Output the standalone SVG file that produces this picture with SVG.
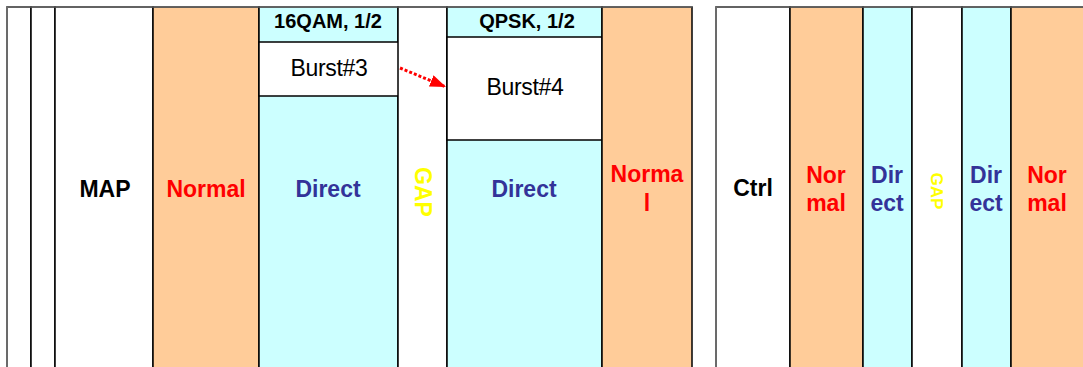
<svg xmlns="http://www.w3.org/2000/svg" width="1083" height="367" viewBox="0 0 1083 367">
<style>
.col{stroke:#000;stroke-width:1.5}
.w{fill:#fff}
.o{fill:#FFCC99}
.c{fill:#CCFFFF}
.frame{fill:none;stroke:#888;stroke-width:1.2}
text{font-family:"Liberation Sans",Arial,sans-serif;text-anchor:middle}
.b{font-weight:bold;font-size:23px}
.blk{fill:#000}
.red{fill:#FF0000}
.blu{fill:#333399}
.yel{fill:#FFFF00}
.hdr{font-weight:bold;font-size:20px;fill:#000}
.bst{font-size:23px;fill:#000;letter-spacing:-0.3px}
</style>
<defs>
<marker id="ah" markerWidth="16" markerHeight="12" refX="16" refY="6" orient="auto" markerUnits="userSpaceOnUse" viewBox="0 0 16 12">
<path d="M0,0 L16,6 L0,12 z" fill="#FF0000"/>
</marker>
</defs>
<rect width="1083" height="367" fill="#fff"/>
<g id="slot0"><rect class="col w" x="7" y="7" width="24" height="380"/></g>
<g id="slot1"><rect class="col w" x="31" y="7" width="24" height="380"/></g>
<g id="map"><rect class="col w" x="55" y="7" width="98" height="380"/><text class="b blk" x="105" y="197">MAP</text></g>
<g id="normal1"><rect class="col o" x="153" y="7" width="106" height="380"/><text class="b red" x="206" y="197">Normal</text></g>
<g id="direct1"><rect class="col c" x="259" y="7" width="139" height="380"/><text class="hdr" x="328" y="28">16QAM, 1/2</text><text class="b blu" x="328" y="197">Direct</text></g>
<g id="burst3"><rect class="col w" x="259" y="42" width="140" height="54"/><text class="bst" x="329" y="76">Burst#3</text></g>
<g id="gap1"><rect class="col w" x="398" y="7" width="49" height="380"/><text class="b yel" transform="translate(415,192) rotate(90)" x="0" y="0">GAP</text></g>
<g id="direct2"><rect class="col c" x="447" y="7" width="155" height="380"/><text class="hdr" x="527" y="28">QPSK, 1/2</text><text class="b blu" x="524" y="197">Direct</text></g>
<g id="burst4"><rect class="col w" x="447" y="37" width="155" height="103"/><text class="bst" x="525" y="95">Burst#4</text></g>
<g id="normal2"><rect class="col o" x="602" y="7" width="90" height="380"/><text class="b red" x="647" y="182">Norma</text><text class="b red" x="647" y="211">l</text></g>
<g id="ctrl"><rect class="col w" x="716" y="7" width="74" height="380"/><text class="b blk" x="753" y="196">Ctrl</text></g>
<g id="normal3"><rect class="col o" x="790" y="7" width="73" height="380"/><text class="b red" x="826" y="183">Nor</text><text class="b red" x="826" y="211">mal</text></g>
<g id="direct3"><rect class="col c" x="863" y="7" width="49" height="380"/><text class="b blu" x="887" y="183">Dir</text><text class="b blu" x="887" y="211">ect</text></g>
<g id="gap2"><rect class="col w" x="912" y="7" width="50" height="380"/><text class="yel" font-weight="bold" font-size="17" transform="translate(931,191) rotate(90)" x="0" y="0">GAP</text></g>
<g id="direct4"><rect class="col c" x="962" y="7" width="49" height="380"/><text class="b blu" x="986" y="183">Dir</text><text class="b blu" x="986" y="211">ect</text></g>
<g id="normal4"><rect class="col o" x="1011" y="7" width="80" height="380"/><text class="b red" x="1047" y="183">Nor</text><text class="b red" x="1047" y="211">mal</text></g>
<g id="frames">
<path class="frame" d="M7,370 V7 H692"/>
<path class="frame" d="M716,370 V7 H1083"/>
</g>
<g id="connectors">
<line x1="400" y1="68" x2="446" y2="87" stroke="#FF0000" stroke-width="3" stroke-dasharray="3,2" marker-end="url(#ah)"/>
</g>
</svg>
